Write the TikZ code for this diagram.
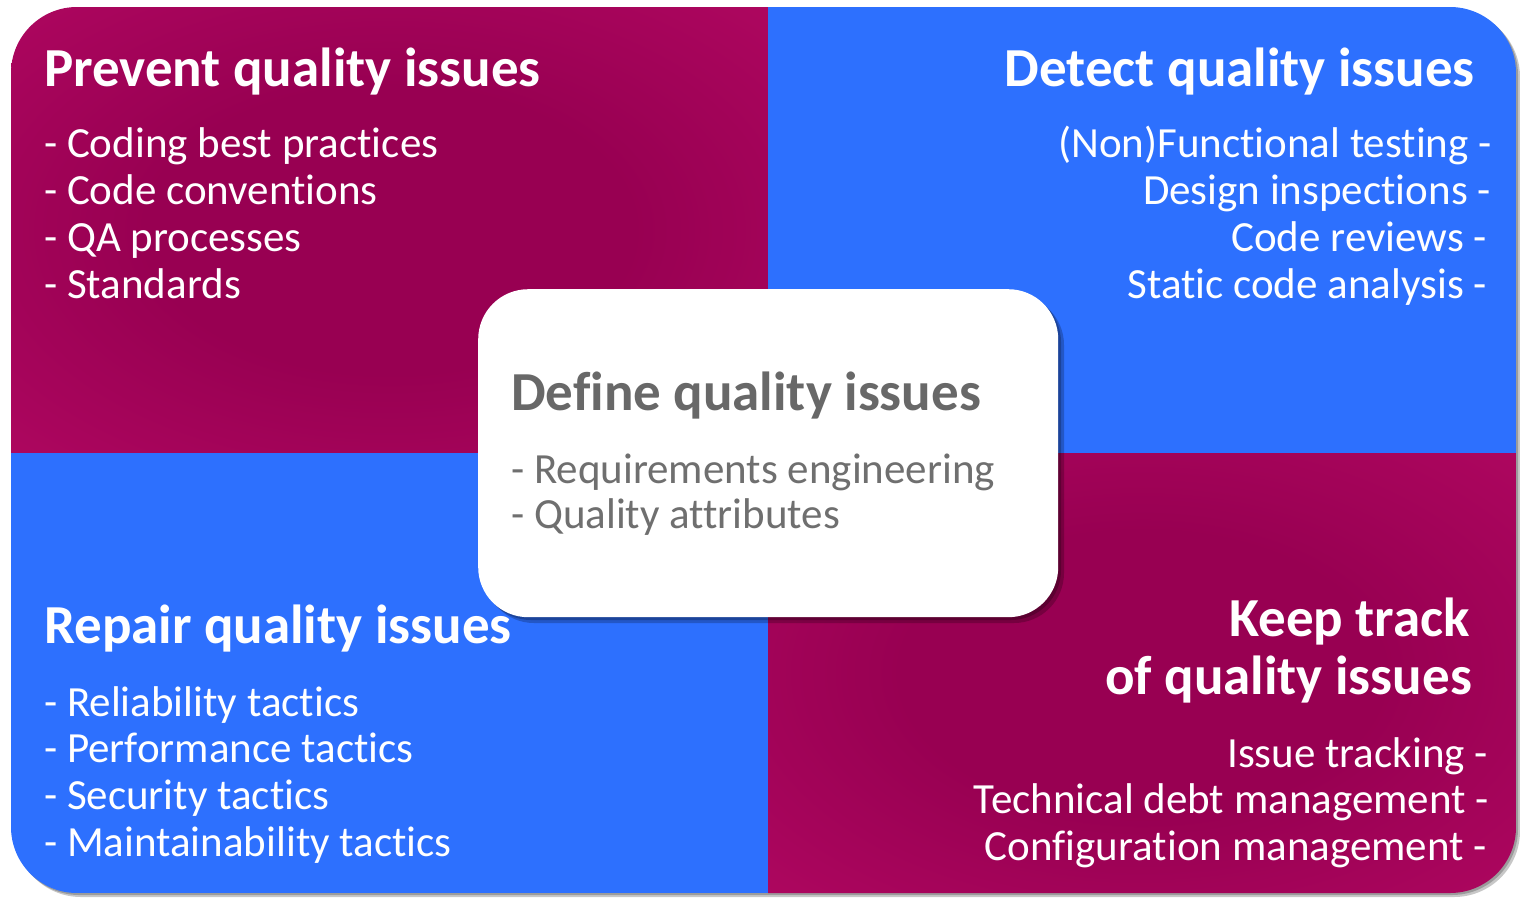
\documentclass[tikz,border=0pt]{standalone}
\usepackage{fontspec}
\setmainfont{Carlito}[Ligatures={NoCommon}]
\definecolor{qblue}{RGB}{45,112,254}
\definecolor{magdark}{RGB}{152,0,82}
\definecolor{magbright}{RGB}{178,8,98}
\definecolor{magedge}{RGB}{158,32,100}
\definecolor{qgray}{RGB}{104,104,104}
\pgfdeclareradialshading{magshade}{\pgfpoint{0bp}{0bp}}{color(0bp)=(magdark); color(16bp)=(magdark); color(40bp)=(magbright); color(47bp)=(magbright); color(64bp)=(magedge)}
\begin{document}
\begin{tikzpicture}[x=1pt,y=-1pt,
  ttl/.style={font=\fontsize{55}{62}\selectfont\bfseries, text=white, inner sep=0pt},
  itm/.style={font=\fontsize{43}{50}\selectfont, text=white, inner sep=0pt},
  cttl/.style={ttl, text=qgray},
  citm/.style={itm, text=qgray!95!white},
  shad/.style={fill=black, fill opacity=0.22}]
\useasboundingbox (0,0) rectangle (1520,897);
% outer shadow and panel
\fill[shad, rounded corners=66] (15,11) rectangle (1520,897);
\fill[shad, rounded corners=66] (13,9) rectangle (1518,895);
\begin{scope}
  \clip[rounded corners=66] (11,7) rectangle (1516,893);
  \shade[shading=magshade] (11,7) rectangle (768,453);
  \fill[qblue] (768,7) rectangle (1516,453);
  \fill[qblue] (11,453) rectangle (768,893);
  \shade[shading=magshade] (768,453) rectangle (1516,893);
\end{scope}
% center box with shadow
\fill[shad, rounded corners=50] (484,295) rectangle (1064,623);
\fill[shad, rounded corners=50] (481,292) rectangle (1061,620);
\node (def) [fill=white, rounded corners=50, inner sep=0pt, minimum width=580, minimum height=328, anchor=north west] at (478,289) {};
% top-left
\node (tlt) [ttl, anchor=base west] at (44,86) {Prevent quality issues};
\node (tl1) [itm, anchor=base west] at (44,157) {- Coding best practices};
\node (tl2) [itm, anchor=base west] at (44,204) {- Code conventions};
\node (tl3) [itm, anchor=base west] at (44,251) {- QA processes};
\node (tl4) [itm, anchor=base west] at (44,298) {- Standards};
% top-right
\node (trt) [ttl, anchor=base east] at (1475,86) {Detect quality issues};
\node (tr1) [itm, anchor=base east] at (1492,157) {(Non)Functional testing -};
\node (tr2) [itm, anchor=base east] at (1491,204) {Design inspections -};
\node (tr3) [itm, anchor=base east] at (1487,251) {Code reviews -};
\node (tr4) [itm, anchor=base east] at (1487,298) {Static code analysis -};
% bottom-left
\node (blt) [ttl, anchor=base west] at (44,643) {Repair quality issues};
\node (bl1) [itm, anchor=base west] at (44,716) {- Reliability tactics};
\node (bl2) [itm, anchor=base west] at (44,762) {- Performance tactics};
\node (bl3) [itm, anchor=base west] at (44,809) {- Security tactics};
\node (bl4) [itm, anchor=base west] at (44,856) {- Maintainability tactics};
% bottom-right
\node (brt1) [ttl, anchor=base east] at (1470,636) {Keep track};
\node (brt2) [ttl, anchor=base east] at (1472,694) {of quality issues};
\node (br1) [itm, anchor=base east] at (1488,767) {Issue tracking -};
\node (br2) [itm, anchor=base east] at (1489,813) {Technical debt management -};
\node (br3) [itm, anchor=base east] at (1487,860) {Configuration management -};
% center text
\node (ct) [cttl, anchor=base west] at (511,410) {Define quality issues};
\node (c1) [citm, anchor=base west] at (511,483) {- Requirements engineering};
\node (c2) [citm, anchor=base west] at (511,528) {- Quality attributes};
\end{tikzpicture}
\end{document}
